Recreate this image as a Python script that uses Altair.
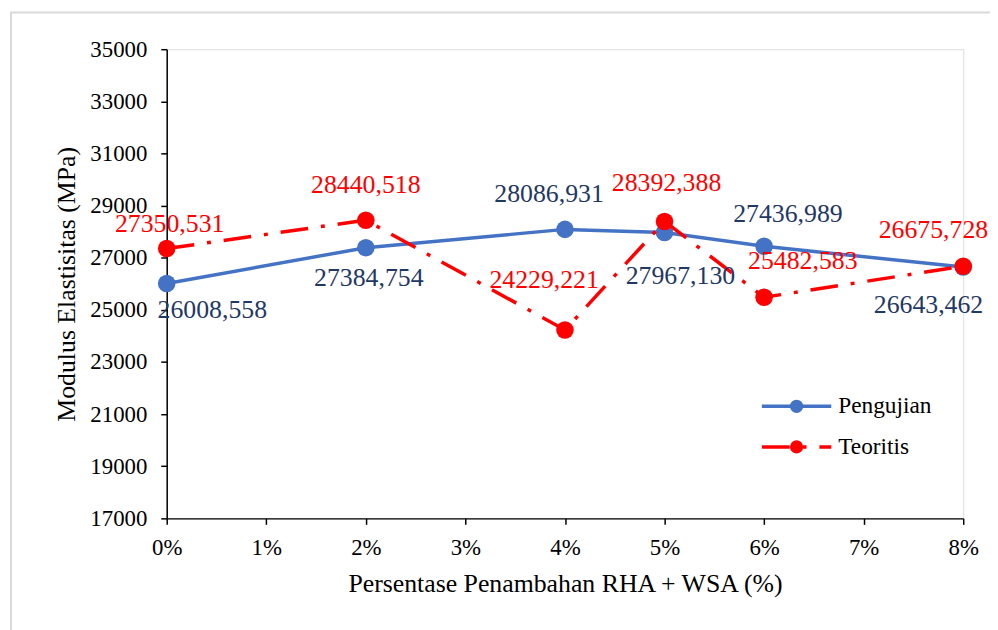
import altair as alt
import pandas as pd

# ---- data ----
pct = [0, 2, 4, 5, 6, 8]
pengujian = [26008.558, 27384.754, 28086.931, 27967.130, 27436.989, 26643.462]
teoritis = [27350.531, 28440.518, 24229.221, 28392.388, 25482.583, 26675.728]
series_names = ["Pengujian", "Teoritis"]
x_ticks = [0, 1, 2, 3, 4, 5, 6, 7, 8]
y_ticks = [17000, 19000, 21000, 23000, 25000, 27000, 29000, 31000, 33000, 35000]

# label offsets (pixels, style only)
off_p = [(46, 27), (3, 31), (-16, -36), (16, 44), (24, -33), (-35, 38)]
off_t = [(3, -25), (0, -35), (-21, -50), (2, -39), (39, -37), (-30, -36)]

FONT = "Liberation Serif"
BLUE = "#4472C4"
BLUE_TXT = "#1F3864"
RED = "#FF0000"
DASH = [28, 13, 4, 13]
W, H = 803, 473


def fmt(v):
    return f"{v:.3f}".replace(".", ",")


df_p = pd.DataFrame({"pct": pct, "val": pengujian, "lab": [fmt(v) for v in pengujian]})
df_t = pd.DataFrame({"pct": pct, "val": teoritis, "lab": [fmt(v) for v in teoritis]})

xs = alt.Scale(domain=[0, 8], nice=False, zero=False)
ys = alt.Scale(domain=[17000, 35000], nice=False, zero=False)

x_axis = alt.Axis(
    values=x_ticks, labelExpr="datum.value + '%'", grid=False,
    tickSize=6, tickColor="black", tickWidth=1.5, domainColor="black", domainWidth=1.5,
    labelFont=FONT, labelFontSize=23, labelColor="black", labelPadding=12,
    labelAlign="center", labelBaseline="top",
    title="Persentase Penambahan RHA + WSA (%)", titleFont=FONT, titleFontSize=26,
    titleFontWeight="normal", titleColor="black", titleX=W / 2, titleY=66,
    titleBaseline="middle", titleAlign="center",
)
y_axis = alt.Axis(
    values=y_ticks, format="d", grid=False,
    tickSize=6, tickColor="black", tickWidth=1.5, domainColor="black", domainWidth=1.5,
    labelFont=FONT, labelFontSize=23, labelColor="black", labelPadding=14,
    labelAlign="right", labelBaseline="middle",
    title="Modulus Elastisitas (MPa)", titleFont=FONT, titleFontSize=26,
    titleFontWeight="normal", titleColor="black", titleX=-101, titleY=H / 2,
    titleAngle=270, titleBaseline="middle", titleAlign="center",
)

one = pd.DataFrame({"a": [0]})

border = alt.Chart(one).mark_rect(
    fillOpacity=0, stroke="#d9d9d9", strokeWidth=2
).encode(x=alt.value(-157), x2=alt.value(W + 60), y=alt.value(-37), y2=alt.value(H + 200))

line_p = alt.Chart(df_p).mark_line(color=BLUE, strokeWidth=3.5).encode(
    x=alt.X("pct:Q", scale=xs, axis=x_axis),
    y=alt.Y("val:Q", scale=ys, axis=y_axis),
)
pts_p = alt.Chart(df_p).mark_point(filled=True, color=BLUE, size=314, opacity=1).encode(
    x=alt.X("pct:Q", scale=xs, axis=x_axis), y=alt.Y("val:Q", scale=ys, axis=y_axis)
)
line_t = alt.Chart(df_t).mark_line(color=RED, strokeWidth=3.5, strokeDash=DASH).encode(
    x=alt.X("pct:Q", scale=xs, axis=x_axis), y=alt.Y("val:Q", scale=ys, axis=y_axis)
)
pts_t = alt.Chart(df_t).mark_point(filled=True, color=RED, size=314, opacity=1).encode(
    x=alt.X("pct:Q", scale=xs, axis=x_axis), y=alt.Y("val:Q", scale=ys, axis=y_axis)
)

labels = []
for df, offs, col in [(df_p, off_p, BLUE_TXT), (df_t, off_t, RED)]:
    for i, (dx, dy) in enumerate(offs):
        labels.append(
            alt.Chart(df.iloc[[i]]).mark_text(
                font=FONT, fontSize=26, color=col, dx=dx, dy=dy,
                align="center", baseline="middle",
            ).encode(x=alt.X("pct:Q", scale=xs, axis=x_axis),
                     y=alt.Y("val:Q", scale=ys, axis=y_axis), text="lab:N")
        )

# manual legend
leg = []
for name, col, dash, ly in [(series_names[0], BLUE, None, 360), (series_names[1], RED, DASH, 401)]:
    rule_kw = dict(color=col, strokeWidth=3.5)
    if dash:
        rule_kw["strokeDash"] = dash
    leg.append(alt.Chart(one).mark_rule(**rule_kw).encode(
        x=alt.value(600), x2=alt.value(670), y=alt.value(ly)))
    leg.append(alt.Chart(one).mark_point(filled=True, color=col, size=177, opacity=1).encode(
        x=alt.value(635), y=alt.value(ly)))
    leg.append(alt.Chart(one).mark_text(
        font=FONT, fontSize=23.5, color="black", align="left", baseline="middle"
    ).encode(x=alt.value(677), y=alt.value(ly), text=alt.value(name)))

chart = alt.layer(border, line_p, pts_p, line_t, pts_t, *labels, *leg).properties(
    width=W, height=H,
    padding={"left": 160, "top": 39, "right": 27, "bottom": 110},
    autosize=alt.AutoSizeParams(type="none"),
    background="white",
).configure_view(stroke=None).configure(font=FONT).configure_axis(
    labelFont=FONT, titleFont=FONT
).configure_text(font=FONT)

chart.save("out.html", embed_options={"renderer": "svg", "actions": False})
